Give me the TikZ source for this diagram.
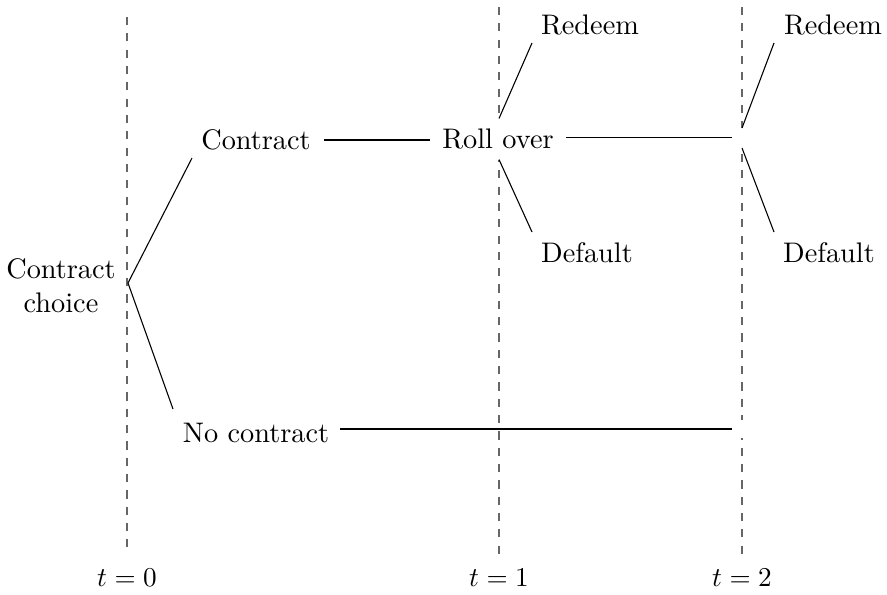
\documentclass[tikz,border=0pt]{standalone}
\begin{document}
\begin{tikzpicture}[x=0.3676pt,y=-0.3676pt,
  font=\fontsize{10.4}{12.5}\selectfont,
  lbl/.style={inner sep=0pt,outer sep=0pt},
  link/.style={line width=0.4pt,black},
  mask/.style={fill=white,inner sep=0pt,outer sep=0pt},
  timeline/.style={dashed,gray!80!black,line width=0.4pt}]
\useasboundingbox (0,0) rectangle (887,594);
% time lines
\coordinate (a0) at (127,17); \coordinate (b0) at (127,550);
\coordinate (a1) at (499,7); \coordinate (b1) at (499,560);
\coordinate (a2) at (742,7); \coordinate (b2) at (742,560);
\draw[timeline] (a0) -- (b0);
\draw[timeline] (a1) -- (b1);
\draw[timeline] (a2) -- (b2);
\node[lbl,anchor=base] (t0) at (127,586) {$t=0$};
\node[lbl,anchor=base] (t1) at (499,586) {$t=1$};
\node[lbl,anchor=base] (t2) at (742,586) {$t=2$};
% nodes
\node[lbl,align=center] (choice) at (61,286) {Contract\\choice};
\node[lbl,inner xsep=5pt] (contract) at (256,140) {Contract};
\node[mask,inner xsep=4.5pt,minimum height=41*0.3676pt] (roll) at (498,139) {Roll over};
\node[lbl,inner xsep=4pt] (nocon) at (256,433) {No contract};
\node[lbl] (red1) at (590,25) {Redeem};
\node[lbl] (def1) at (587,253) {Default};
\node[lbl] (red2) at (833,25) {Redeem};
\node[lbl] (def2) at (829,253) {Default};
% empty masking nodes on the t=2 line
\node[mask,minimum width=4pt,minimum height=20*0.3676pt] (m2) at (742,138) {};
\node[mask,minimum width=4pt,minimum height=18*0.3676pt] (m3) at (742,429) {};
% junction points
\coordinate (j0) at (128,283);
\coordinate (c0) at (192,158);
\coordinate (n0) at (173,409);
\coordinate (e2) at (732,137.5);
\coordinate (e3) at (732,429);
\coordinate (r1b) at (532,43);
\coordinate (d1b) at (532,232);
\coordinate (r2b) at (774,43);
\coordinate (d2b) at (774,232);
% connectors
\draw[link] (c0) -- (j0) -- (n0);
\draw[link] (contract.east) -- (roll.west |- contract.east);
\draw[link] (roll.east |- e2) -- (e2);
\draw[link] (roll.north -| 499,0) -- (r1b);
\draw[link] (roll.south -| 499,0) -- (d1b);
\draw[link] (m2.north) -- (r2b);
\draw[link] (m2.south) -- (d2b);
\draw[link] (nocon.east |- e3) -- (e3);
\end{tikzpicture}
\end{document}
